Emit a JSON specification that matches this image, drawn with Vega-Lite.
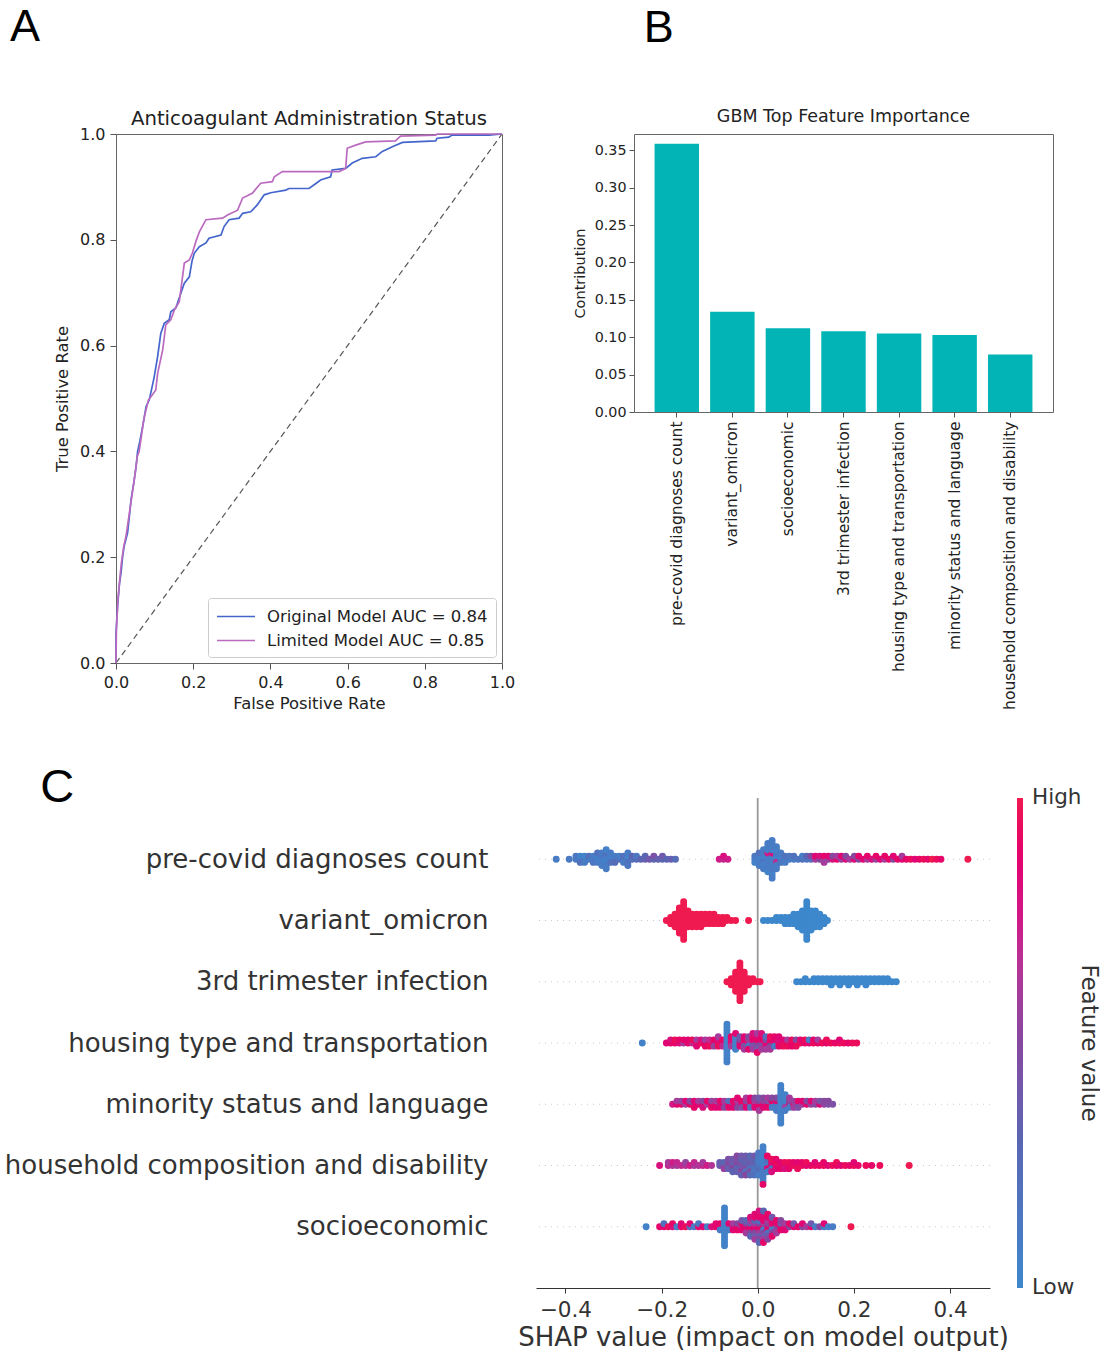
{
"$schema": "https://vega.github.io/schema/vega-lite/v6.json",
"padding": {"left": 4, "top": 4, "right": 0, "bottom": 0},
"background": "white",
"config": {
  "font": "DejaVu Sans",
  "view": {"stroke": "#666", "strokeWidth": 1},
  "axis": {"grid": false, "domain": false, "tickColor": "#555", "labelColor": "#222", "titleColor": "#222", "titleFontWeight": "normal", "labelFont": "DejaVu Sans", "titleFont": "DejaVu Sans"},
  "legend": {"labelFont": "DejaVu Sans", "titleFont": "DejaVu Sans"},
  "title": {"font": "DejaVu Sans", "fontWeight": "normal", "color": "#222"}
},
"resolve": {"scale": {"color": "independent"}, "legend": {"color": "independent"}},
"spacing": 52,
"vconcat": [
 {"hconcat": [
  {"title": {"text": "A", "anchor": "start", "font": "Liberation Sans", "fontSize": 45, "color": "#000", "fontWeight": "normal", "offset": 59, "dx": -44},
   "resolve": {"scale": {"color": "independent"}, "legend": {"color": "independent"}},
   "vconcat": [{
    "width": 386, "height": 529,
    "title": {"text": "Anticoagulant Administration Status", "fontSize": 19.7, "offset": -3},
    "layer": [
     {"data": {"values": [{"fpr": 0, "tpr": 0}, {"fpr": 1, "tpr": 1}]},
      "mark": {"type": "line", "color": "#555", "strokeDash": [6, 4], "strokeWidth": 1.2},
      "encoding": {
        "x": {"field": "fpr", "type": "quantitative", "scale": {"domain": [0, 1], "nice": false},
              "axis": {"values": [0, 0.2, 0.4, 0.6, 0.8, 1], "format": ".1f", "title": "False Positive Rate", "labelFontSize": 16, "titleFontSize": 16.4, "tickSize": 6, "labelPadding": 5, "titlePadding": 5, "labelFlush": false}},
        "y": {"field": "tpr", "type": "quantitative", "scale": {"domain": [0, 1], "nice": false},
              "axis": {"values": [0, 0.2, 0.4, 0.6, 0.8, 1], "format": ".1f", "title": "True Positive Rate", "labelFontSize": 16, "titleFontSize": 16.4, "tickSize": 6, "labelPadding": 5, "titlePadding": 9, "labelFlush": false}}
      }},
     {"data": {"values": [
{"model":"Original Model AUC = 0.84","i":0,"fpr":0,"tpr":0},
{"model":"Original Model AUC = 0.84","i":1,"fpr":0,"tpr":0.057},
{"model":"Original Model AUC = 0.84","i":2,"fpr":0.004,"tpr":0.107},
{"model":"Original Model AUC = 0.84","i":3,"fpr":0.009,"tpr":0.15},
{"model":"Original Model AUC = 0.84","i":4,"fpr":0.013,"tpr":0.17},
{"model":"Original Model AUC = 0.84","i":5,"fpr":0.017,"tpr":0.2},
{"model":"Original Model AUC = 0.84","i":6,"fpr":0.021,"tpr":0.22},
{"model":"Original Model AUC = 0.84","i":7,"fpr":0.03,"tpr":0.246},
{"model":"Original Model AUC = 0.84","i":8,"fpr":0.035,"tpr":0.28},
{"model":"Original Model AUC = 0.84","i":9,"fpr":0.039,"tpr":0.309},
{"model":"Original Model AUC = 0.84","i":10,"fpr":0.046,"tpr":0.34},
{"model":"Original Model AUC = 0.84","i":11,"fpr":0.052,"tpr":0.371},
{"model":"Original Model AUC = 0.84","i":12,"fpr":0.056,"tpr":0.4},
{"model":"Original Model AUC = 0.84","i":13,"fpr":0.062,"tpr":0.42},
{"model":"Original Model AUC = 0.84","i":14,"fpr":0.069,"tpr":0.447},
{"model":"Original Model AUC = 0.84","i":15,"fpr":0.078,"tpr":0.485},
{"model":"Original Model AUC = 0.84","i":16,"fpr":0.086,"tpr":0.497},
{"model":"Original Model AUC = 0.84","i":17,"fpr":0.093,"tpr":0.52},
{"model":"Original Model AUC = 0.84","i":18,"fpr":0.099,"tpr":0.541},
{"model":"Original Model AUC = 0.84","i":19,"fpr":0.108,"tpr":0.58},
{"model":"Original Model AUC = 0.84","i":20,"fpr":0.116,"tpr":0.623},
{"model":"Original Model AUC = 0.84","i":21,"fpr":0.125,"tpr":0.642},
{"model":"Original Model AUC = 0.84","i":22,"fpr":0.138,"tpr":0.649},
{"model":"Original Model AUC = 0.84","i":23,"fpr":0.142,"tpr":0.664},
{"model":"Original Model AUC = 0.84","i":24,"fpr":0.155,"tpr":0.671},
{"model":"Original Model AUC = 0.84","i":25,"fpr":0.168,"tpr":0.699},
{"model":"Original Model AUC = 0.84","i":26,"fpr":0.177,"tpr":0.718},
{"model":"Original Model AUC = 0.84","i":27,"fpr":0.19,"tpr":0.73},
{"model":"Original Model AUC = 0.84","i":28,"fpr":0.197,"tpr":0.76},
{"model":"Original Model AUC = 0.84","i":29,"fpr":0.203,"tpr":0.775},
{"model":"Original Model AUC = 0.84","i":30,"fpr":0.216,"tpr":0.787},
{"model":"Original Model AUC = 0.84","i":31,"fpr":0.233,"tpr":0.794},
{"model":"Original Model AUC = 0.84","i":32,"fpr":0.241,"tpr":0.803},
{"model":"Original Model AUC = 0.84","i":33,"fpr":0.272,"tpr":0.809},
{"model":"Original Model AUC = 0.84","i":34,"fpr":0.28,"tpr":0.825},
{"model":"Original Model AUC = 0.84","i":35,"fpr":0.293,"tpr":0.838},
{"model":"Original Model AUC = 0.84","i":36,"fpr":0.319,"tpr":0.841},
{"model":"Original Model AUC = 0.84","i":37,"fpr":0.328,"tpr":0.85},
{"model":"Original Model AUC = 0.84","i":38,"fpr":0.349,"tpr":0.853},
{"model":"Original Model AUC = 0.84","i":39,"fpr":0.366,"tpr":0.866},
{"model":"Original Model AUC = 0.84","i":40,"fpr":0.384,"tpr":0.885},
{"model":"Original Model AUC = 0.84","i":41,"fpr":0.401,"tpr":0.889},
{"model":"Original Model AUC = 0.84","i":42,"fpr":0.44,"tpr":0.894},
{"model":"Original Model AUC = 0.84","i":43,"fpr":0.448,"tpr":0.897},
{"model":"Original Model AUC = 0.84","i":44,"fpr":0.5,"tpr":0.897},
{"model":"Original Model AUC = 0.84","i":45,"fpr":0.517,"tpr":0.906},
{"model":"Original Model AUC = 0.84","i":46,"fpr":0.53,"tpr":0.913},
{"model":"Original Model AUC = 0.84","i":47,"fpr":0.556,"tpr":0.919},
{"model":"Original Model AUC = 0.84","i":48,"fpr":0.56,"tpr":0.932},
{"model":"Original Model AUC = 0.84","i":49,"fpr":0.595,"tpr":0.935},
{"model":"Original Model AUC = 0.84","i":50,"fpr":0.612,"tpr":0.945},
{"model":"Original Model AUC = 0.84","i":51,"fpr":0.638,"tpr":0.954},
{"model":"Original Model AUC = 0.84","i":52,"fpr":0.673,"tpr":0.957},
{"model":"Original Model AUC = 0.84","i":53,"fpr":0.69,"tpr":0.967},
{"model":"Original Model AUC = 0.84","i":54,"fpr":0.716,"tpr":0.976},
{"model":"Original Model AUC = 0.84","i":55,"fpr":0.742,"tpr":0.984},
{"model":"Original Model AUC = 0.84","i":56,"fpr":0.828,"tpr":0.987},
{"model":"Original Model AUC = 0.84","i":57,"fpr":0.832,"tpr":0.992},
{"model":"Original Model AUC = 0.84","i":58,"fpr":0.862,"tpr":0.994},
{"model":"Original Model AUC = 0.84","i":59,"fpr":0.871,"tpr":0.998},
{"model":"Original Model AUC = 0.84","i":60,"fpr":0.966,"tpr":0.998},
{"model":"Original Model AUC = 0.84","i":61,"fpr":1,"tpr":1},
{"model":"Limited Model AUC = 0.85","i":0,"fpr":0,"tpr":0},
{"model":"Limited Model AUC = 0.85","i":1,"fpr":0.001,"tpr":0.06},
{"model":"Limited Model AUC = 0.85","i":2,"fpr":0.005,"tpr":0.12},
{"model":"Limited Model AUC = 0.85","i":3,"fpr":0.01,"tpr":0.16},
{"model":"Limited Model AUC = 0.85","i":4,"fpr":0.014,"tpr":0.19},
{"model":"Limited Model AUC = 0.85","i":5,"fpr":0.02,"tpr":0.22},
{"model":"Limited Model AUC = 0.85","i":6,"fpr":0.026,"tpr":0.24},
{"model":"Limited Model AUC = 0.85","i":7,"fpr":0.032,"tpr":0.27},
{"model":"Limited Model AUC = 0.85","i":8,"fpr":0.038,"tpr":0.3},
{"model":"Limited Model AUC = 0.85","i":9,"fpr":0.044,"tpr":0.33},
{"model":"Limited Model AUC = 0.85","i":10,"fpr":0.05,"tpr":0.36},
{"model":"Limited Model AUC = 0.85","i":11,"fpr":0.055,"tpr":0.39},
{"model":"Limited Model AUC = 0.85","i":12,"fpr":0.06,"tpr":0.4},
{"model":"Limited Model AUC = 0.85","i":13,"fpr":0.066,"tpr":0.43},
{"model":"Limited Model AUC = 0.85","i":14,"fpr":0.072,"tpr":0.46},
{"model":"Limited Model AUC = 0.85","i":15,"fpr":0.078,"tpr":0.479},
{"model":"Limited Model AUC = 0.85","i":16,"fpr":0.084,"tpr":0.497},
{"model":"Limited Model AUC = 0.85","i":17,"fpr":0.091,"tpr":0.504},
{"model":"Limited Model AUC = 0.85","i":18,"fpr":0.103,"tpr":0.516},
{"model":"Limited Model AUC = 0.85","i":19,"fpr":0.108,"tpr":0.548},
{"model":"Limited Model AUC = 0.85","i":20,"fpr":0.121,"tpr":0.592},
{"model":"Limited Model AUC = 0.85","i":21,"fpr":0.129,"tpr":0.639},
{"model":"Limited Model AUC = 0.85","i":22,"fpr":0.142,"tpr":0.649},
{"model":"Limited Model AUC = 0.85","i":23,"fpr":0.151,"tpr":0.667},
{"model":"Limited Model AUC = 0.85","i":24,"fpr":0.164,"tpr":0.683},
{"model":"Limited Model AUC = 0.85","i":25,"fpr":0.177,"tpr":0.756},
{"model":"Limited Model AUC = 0.85","i":26,"fpr":0.19,"tpr":0.762},
{"model":"Limited Model AUC = 0.85","i":27,"fpr":0.198,"tpr":0.775},
{"model":"Limited Model AUC = 0.85","i":28,"fpr":0.207,"tpr":0.797},
{"model":"Limited Model AUC = 0.85","i":29,"fpr":0.216,"tpr":0.815},
{"model":"Limited Model AUC = 0.85","i":30,"fpr":0.233,"tpr":0.838},
{"model":"Limited Model AUC = 0.85","i":31,"fpr":0.276,"tpr":0.841},
{"model":"Limited Model AUC = 0.85","i":32,"fpr":0.289,"tpr":0.847},
{"model":"Limited Model AUC = 0.85","i":33,"fpr":0.315,"tpr":0.856},
{"model":"Limited Model AUC = 0.85","i":34,"fpr":0.328,"tpr":0.879},
{"model":"Limited Model AUC = 0.85","i":35,"fpr":0.353,"tpr":0.888},
{"model":"Limited Model AUC = 0.85","i":36,"fpr":0.375,"tpr":0.907},
{"model":"Limited Model AUC = 0.85","i":37,"fpr":0.405,"tpr":0.91},
{"model":"Limited Model AUC = 0.85","i":38,"fpr":0.41,"tpr":0.919},
{"model":"Limited Model AUC = 0.85","i":39,"fpr":0.431,"tpr":0.929},
{"model":"Limited Model AUC = 0.85","i":40,"fpr":0.578,"tpr":0.929},
{"model":"Limited Model AUC = 0.85","i":41,"fpr":0.595,"tpr":0.935},
{"model":"Limited Model AUC = 0.85","i":42,"fpr":0.599,"tpr":0.973},
{"model":"Limited Model AUC = 0.85","i":43,"fpr":0.621,"tpr":0.979},
{"model":"Limited Model AUC = 0.85","i":44,"fpr":0.647,"tpr":0.985},
{"model":"Limited Model AUC = 0.85","i":45,"fpr":0.724,"tpr":0.987},
{"model":"Limited Model AUC = 0.85","i":46,"fpr":0.737,"tpr":0.996},
{"model":"Limited Model AUC = 0.85","i":47,"fpr":0.828,"tpr":0.998},
{"model":"Limited Model AUC = 0.85","i":48,"fpr":0.832,"tpr":1},
{"model":"Limited Model AUC = 0.85","i":49,"fpr":1,"tpr":1}
      ]},
      "mark": {"type": "line", "strokeWidth": 1.7},
      "encoding": {
        "x": {"field": "fpr", "type": "quantitative", "scale": {"domain": [0, 1], "nice": false}},
        "y": {"field": "tpr", "type": "quantitative", "scale": {"domain": [0, 1], "nice": false}},
        "color": {"field": "model", "type": "nominal",
                  "scale": {"domain": ["Original Model AUC = 0.84", "Limited Model AUC = 0.85"], "range": ["#4466cc", "#bb6bbf"]},
                  "legend": {"orient": "bottom-right", "title": null, "symbolType": "M-1,0H3", "symbolSize": 361, "symbolStrokeWidth": 1.5, "strokeColor": "#ccc", "fillColor": "#fff", "padding": 8, "cornerRadius": 3, "labelFontSize": 16.5, "labelColor": "#222", "labelLimit": 400, "rowPadding": 5, "labelOffset": 30, "offset": 6}},
        "order": {"field": "i", "type": "quantitative"}
      }}
    ]
   }]},
  {"title": {"text": "B", "anchor": "start", "font": "Liberation Sans", "fontSize": 45, "color": "#000", "fontWeight": "normal", "offset": 56, "dx": 72},
   "vconcat": [{
    "width": 419, "height": 278,
    "title": {"text": "GBM Top Feature Importance", "fontSize": 17.5, "offset": 9},
    "data": {"values": [
      {"feature": "pre-covid diagnoses count", "importance": 0.359},
      {"feature": "variant_omicron", "importance": 0.134},
      {"feature": "socioeconomic", "importance": 0.112},
      {"feature": "3rd trimester infection", "importance": 0.108},
      {"feature": "housing type and transportation", "importance": 0.105},
      {"feature": "minority status and language", "importance": 0.103},
      {"feature": "household composition and disability", "importance": 0.077}
    ]},
    "mark": {"type": "bar", "color": "#03b4b6"},
    "encoding": {
      "x": {"field": "feature", "type": "nominal", "sort": null, "scale": {"paddingInner": 0.2, "paddingOuter": 0.37},
            "axis": {"title": null, "labelAngle": -90, "labelFontSize": 15.5, "labelLimit": 400, "tickSize": 5, "labelPadding": 4}},
      "y": {"field": "importance", "type": "quantitative", "scale": {"domain": [0, 0.3719], "nice": false},
            "axis": {"values": [0, 0.05, 0.1, 0.15, 0.2, 0.25, 0.3, 0.35], "format": ".2f", "title": "Contribution", "labelFontSize": 14.3, "titleFontSize": 14.5, "tickSize": 5, "labelPadding": 3, "titlePadding": 7, "labelFlush": false}}
    }
   }]}
 ], "spacing": 55},
 {"hconcat": [
  {"width": 1, "height": 1, "data": {"values": [{"a": 0}]}, "mark": {"type": "point", "opacity": 0}, "view": {"stroke": null}},
  {
  "width": 454, "height": 490,
  "title": {"text": "C", "anchor": "start", "font": "Liberation Sans", "fontSize": 47, "color": "#000", "fontWeight": "normal", "offset": -15, "dx": 36},
  "view": {"stroke": null},
  "layer": [
   {"data": {"values": [{"r": 0}, {"r": 1}, {"r": 2}, {"r": 3}, {"r": 4}, {"r": 5}, {"r": 6}]},
    "mark": {"type": "rule", "color": "#c8c8c8", "strokeDash": [1, 5], "strokeWidth": 1},
    "encoding": {"y": {"field": "r", "type": "quantitative", "scale": {"domain": [-1, 7], "nice": false}, "axis": {"title": null}}}},
   {"data": {"values": [{"z": 0}]},
    "mark": {"type": "rule", "color": "#999", "strokeWidth": 1.8},
    "encoding": {"x": {"field": "z", "type": "quantitative", "scale": {"domain": [-0.461, 0.483], "nice": false}, "axis": {"title": "SHAP value (impact on model output)"}}}},
   {"data": {"values": [
{"r":6,"x":-0.419,"v":0.1},{"r":6,"x":-0.392,"v":0.12},
{"r":6,"x":-0.378,"v":0.1},{"r":6,"x":-0.378,"v":0.15},
{"r":6,"x":-0.369,"v":0.1},{"r":6,"x":-0.369,"v":0.05},{"r":6,"x":-0.369,"v":0.2},
{"r":6,"x":-0.36,"v":0.15},{"r":6,"x":-0.36,"v":0.05},{"r":6,"x":-0.36,"v":0.1},
{"r":6,"x":-0.351,"v":0.1},{"r":6,"x":-0.351,"v":0.2},
{"r":6,"x":-0.342,"v":0.05},{"r":6,"x":-0.342,"v":0.1},{"r":6,"x":-0.342,"v":0.15},
{"r":6,"x":-0.333,"v":0.1},{"r":6,"x":-0.333,"v":0.05},{"r":6,"x":-0.333,"v":0.1},{"r":6,"x":-0.333,"v":0.2},
{"r":6,"x":-0.324,"v":0.1},{"r":6,"x":-0.324,"v":0.15},{"r":6,"x":-0.324,"v":0.05},{"r":6,"x":-0.324,"v":0.1},{"r":6,"x":-0.324,"v":0.1},
{"r":6,"x":-0.315,"v":0.05},{"r":6,"x":-0.315,"v":0.1},{"r":6,"x":-0.315,"v":0.05},{"r":6,"x":-0.315,"v":0.2},{"r":6,"x":-0.315,"v":0.1},{"r":6,"x":-0.315,"v":0.05},{"r":6,"x":-0.315,"v":0.1},
{"r":6,"x":-0.306,"v":0.1},{"r":6,"x":-0.306,"v":0.05},{"r":6,"x":-0.306,"v":0.2},{"r":6,"x":-0.306,"v":0.1},
{"r":6,"x":-0.297,"v":0.15},{"r":6,"x":-0.297,"v":0.1},{"r":6,"x":-0.297,"v":0.25},
{"r":6,"x":-0.288,"v":0.2},{"r":6,"x":-0.288,"v":0.1},
{"r":6,"x":-0.279,"v":0.15},{"r":6,"x":-0.279,"v":0.2},{"r":6,"x":-0.279,"v":0.1},
{"r":6,"x":-0.27,"v":0.1},{"r":6,"x":-0.27,"v":0.05},{"r":6,"x":-0.27,"v":0.2},{"r":6,"x":-0.27,"v":0.1},{"r":6,"x":-0.27,"v":0.15},
{"r":6,"x":-0.261,"v":0.2},{"r":6,"x":-0.261,"v":0.3},
{"r":6,"x":-0.252,"v":0.25},{"r":6,"x":-0.252,"v":0.15},
{"r":6,"x":-0.243,"v":0.3},
{"r":6,"x":-0.234,"v":0.35},{"r":6,"x":-0.234,"v":0.3},
{"r":6,"x":-0.225,"v":0.4},
{"r":6,"x":-0.216,"v":0.3},{"r":6,"x":-0.216,"v":0.45},
{"r":6,"x":-0.207,"v":0.35},
{"r":6,"x":-0.198,"v":0.3},{"r":6,"x":-0.198,"v":0.4},
{"r":6,"x":-0.189,"v":0.3},{"r":6,"x":-0.18,"v":0.35},{"r":6,"x":-0.171,"v":0.25},
{"r":6,"x":-0.08,"v":0.75},{"r":6,"x":-0.071,"v":0.7},{"r":6,"x":-0.071,"v":0.8},{"r":6,"x":-0.062,"v":0.75},
{"r":6,"x":-0.006,"v":0.1},{"r":6,"x":-0.006,"v":0.15},{"r":6,"x":-0.006,"v":0.05},
{"r":6,"x":0.003,"v":0.1},{"r":6,"x":0.003,"v":0.05},{"r":6,"x":0.003,"v":0.1},{"r":6,"x":0.003,"v":0.2},{"r":6,"x":0.003,"v":0.1},
{"r":6,"x":0.012,"v":0.1},{"r":6,"x":0.012,"v":0.05},{"r":6,"x":0.012,"v":0.15},{"r":6,"x":0.012,"v":0.1},{"r":6,"x":0.012,"v":0.05},{"r":6,"x":0.012,"v":0.1},{"r":6,"x":0.012,"v":0.1},
{"r":6,"x":0.021,"v":0.1},{"r":6,"x":0.021,"v":0.05},{"r":6,"x":0.021,"v":0.1},{"r":6,"x":0.021,"v":0.75},{"r":6,"x":0.021,"v":0.1},{"r":6,"x":0.021,"v":0.05},{"r":6,"x":0.021,"v":0.1},{"r":6,"x":0.021,"v":0.1},{"r":6,"x":0.021,"v":0.05},{"r":6,"x":0.021,"v":0.1},
{"r":6,"x":0.03,"v":0.1},{"r":6,"x":0.03,"v":0.05},{"r":6,"x":0.03,"v":0.1},{"r":6,"x":0.03,"v":0.8},{"r":6,"x":0.03,"v":0.1},{"r":6,"x":0.03,"v":0.05},{"r":6,"x":0.03,"v":0.1},{"r":6,"x":0.03,"v":0.1},{"r":6,"x":0.03,"v":0.15},{"r":6,"x":0.03,"v":0.1},{"r":6,"x":0.03,"v":0.05},{"r":6,"x":0.03,"v":0.1},{"r":6,"x":0.03,"v":0.1},
{"r":6,"x":0.039,"v":0.1},{"r":6,"x":0.039,"v":0.05},{"r":6,"x":0.039,"v":0.7},{"r":6,"x":0.039,"v":0.1},{"r":6,"x":0.039,"v":0.1},{"r":6,"x":0.039,"v":0.05},{"r":6,"x":0.039,"v":0.1},{"r":6,"x":0.039,"v":0.1},
{"r":6,"x":0.048,"v":0.1},{"r":6,"x":0.048,"v":0.05},{"r":6,"x":0.048,"v":0.15},{"r":6,"x":0.048,"v":0.1},
{"r":6,"x":0.057,"v":0.1},{"r":6,"x":0.057,"v":0.2},{"r":6,"x":0.057,"v":0.1},
{"r":6,"x":0.066,"v":0.1},{"r":6,"x":0.066,"v":0.15},
{"r":6,"x":0.075,"v":0.1},{"r":6,"x":0.075,"v":0.2},
{"r":6,"x":0.084,"v":0.15},
{"r":6,"x":0.093,"v":0.2},{"r":6,"x":0.093,"v":0.1},
{"r":6,"x":0.102,"v":0.15},{"r":6,"x":0.102,"v":0.3},
{"r":6,"x":0.111,"v":0.2},{"r":6,"x":0.111,"v":0.5},
{"r":6,"x":0.12,"v":0.6},{"r":6,"x":0.12,"v":0.85},
{"r":6,"x":0.129,"v":0.5},{"r":6,"x":0.129,"v":0.8},
{"r":6,"x":0.138,"v":0.45},{"r":6,"x":0.138,"v":0.9},{"r":6,"x":0.138,"v":0.6},
{"r":6,"x":0.147,"v":0.55},{"r":6,"x":0.147,"v":0.85},
{"r":6,"x":0.156,"v":0.8},{"r":6,"x":0.156,"v":0.5},
{"r":6,"x":0.165,"v":0.9},{"r":6,"x":0.165,"v":0.6},
{"r":6,"x":0.174,"v":0.55},{"r":6,"x":0.174,"v":0.85},
{"r":6,"x":0.183,"v":0.8},{"r":6,"x":0.183,"v":0.5},
{"r":6,"x":0.192,"v":0.6},
{"r":6,"x":0.201,"v":0.85},{"r":6,"x":0.201,"v":0.5},
{"r":6,"x":0.21,"v":0.5},{"r":6,"x":0.21,"v":0.9},
{"r":6,"x":0.219,"v":0.85},
{"r":6,"x":0.228,"v":0.6},{"r":6,"x":0.228,"v":0.9},
{"r":6,"x":0.237,"v":0.8},
{"r":6,"x":0.246,"v":0.55},{"r":6,"x":0.246,"v":0.9},
{"r":6,"x":0.255,"v":0.85},
{"r":6,"x":0.264,"v":0.6},{"r":6,"x":0.264,"v":0.9},
{"r":6,"x":0.273,"v":0.9},
{"r":6,"x":0.282,"v":0.5},{"r":6,"x":0.282,"v":0.85},
{"r":6,"x":0.291,"v":0.9},
{"r":6,"x":0.3,"v":0.85},{"r":6,"x":0.3,"v":0.6},
{"r":6,"x":0.309,"v":0.9},{"r":6,"x":0.318,"v":0.95},{"r":6,"x":0.327,"v":0.85},{"r":6,"x":0.336,"v":0.9},{"r":6,"x":0.345,"v":0.95},{"r":6,"x":0.354,"v":0.9},{"r":6,"x":0.363,"v":1},{"r":6,"x":0.372,"v":0.95},{"r":6,"x":0.381,"v":0.9},
{"r":6,"x":0.437,"v":1},

{"r":5,"x":-0.19,"v":1},
{"r":5,"x":-0.181,"v":1},{"r":5,"x":-0.181,"v":1},{"r":5,"x":-0.181,"v":1},
{"r":5,"x":-0.172,"v":1},{"r":5,"x":-0.172,"v":1},{"r":5,"x":-0.172,"v":1},{"r":5,"x":-0.172,"v":1},{"r":5,"x":-0.172,"v":1},
{"r":5,"x":-0.163,"v":1},{"r":5,"x":-0.163,"v":1},{"r":5,"x":-0.163,"v":1},{"r":5,"x":-0.163,"v":1},{"r":5,"x":-0.163,"v":1},{"r":5,"x":-0.163,"v":1},{"r":5,"x":-0.163,"v":1},{"r":5,"x":-0.163,"v":1},{"r":5,"x":-0.163,"v":1},
{"r":5,"x":-0.154,"v":1},{"r":5,"x":-0.154,"v":1},{"r":5,"x":-0.154,"v":1},{"r":5,"x":-0.154,"v":1},{"r":5,"x":-0.154,"v":1},{"r":5,"x":-0.154,"v":1},{"r":5,"x":-0.154,"v":1},{"r":5,"x":-0.154,"v":1},{"r":5,"x":-0.154,"v":1},{"r":5,"x":-0.154,"v":1},{"r":5,"x":-0.154,"v":1},{"r":5,"x":-0.154,"v":1},{"r":5,"x":-0.154,"v":1},
{"r":5,"x":-0.145,"v":1},{"r":5,"x":-0.145,"v":1},{"r":5,"x":-0.145,"v":1},{"r":5,"x":-0.145,"v":1},{"r":5,"x":-0.145,"v":1},{"r":5,"x":-0.145,"v":1},
{"r":5,"x":-0.136,"v":1},{"r":5,"x":-0.136,"v":1},{"r":5,"x":-0.136,"v":1},{"r":5,"x":-0.136,"v":1},{"r":5,"x":-0.136,"v":1},
{"r":5,"x":-0.127,"v":1},{"r":5,"x":-0.127,"v":1},{"r":5,"x":-0.127,"v":1},{"r":5,"x":-0.127,"v":1},{"r":5,"x":-0.127,"v":1},
{"r":5,"x":-0.118,"v":1},{"r":5,"x":-0.118,"v":1},{"r":5,"x":-0.118,"v":1},{"r":5,"x":-0.118,"v":1},{"r":5,"x":-0.118,"v":1},
{"r":5,"x":-0.109,"v":1},{"r":5,"x":-0.109,"v":1},{"r":5,"x":-0.109,"v":1},{"r":5,"x":-0.109,"v":1},
{"r":5,"x":-0.1,"v":1},{"r":5,"x":-0.1,"v":1},{"r":5,"x":-0.1,"v":1},{"r":5,"x":-0.1,"v":1},
{"r":5,"x":-0.091,"v":1},{"r":5,"x":-0.091,"v":1},{"r":5,"x":-0.091,"v":1},{"r":5,"x":-0.091,"v":1},
{"r":5,"x":-0.082,"v":1},{"r":5,"x":-0.082,"v":1},{"r":5,"x":-0.082,"v":1},
{"r":5,"x":-0.073,"v":1},{"r":5,"x":-0.073,"v":1},{"r":5,"x":-0.073,"v":1},
{"r":5,"x":-0.064,"v":1},{"r":5,"x":-0.064,"v":1},
{"r":5,"x":-0.055,"v":1},{"r":5,"x":-0.046,"v":1},{"r":5,"x":-0.019,"v":1},
{"r":5,"x":0.012,"v":0},{"r":5,"x":0.021,"v":0},{"r":5,"x":0.03,"v":0},
{"r":5,"x":0.039,"v":0},{"r":5,"x":0.039,"v":0},
{"r":5,"x":0.048,"v":0},{"r":5,"x":0.048,"v":0},
{"r":5,"x":0.057,"v":0},{"r":5,"x":0.057,"v":0},{"r":5,"x":0.057,"v":0},
{"r":5,"x":0.066,"v":0},{"r":5,"x":0.066,"v":0},{"r":5,"x":0.066,"v":0},
{"r":5,"x":0.075,"v":0},{"r":5,"x":0.075,"v":0},{"r":5,"x":0.075,"v":0},{"r":5,"x":0.075,"v":0},
{"r":5,"x":0.084,"v":0},{"r":5,"x":0.084,"v":0},{"r":5,"x":0.084,"v":0},{"r":5,"x":0.084,"v":0},{"r":5,"x":0.084,"v":0},
{"r":5,"x":0.093,"v":0},{"r":5,"x":0.093,"v":0},{"r":5,"x":0.093,"v":0},{"r":5,"x":0.093,"v":0},{"r":5,"x":0.093,"v":0},{"r":5,"x":0.093,"v":0},{"r":5,"x":0.093,"v":0},
{"r":5,"x":0.102,"v":0},{"r":5,"x":0.102,"v":0},{"r":5,"x":0.102,"v":0},{"r":5,"x":0.102,"v":0},{"r":5,"x":0.102,"v":0},{"r":5,"x":0.102,"v":0},{"r":5,"x":0.102,"v":0},{"r":5,"x":0.102,"v":0},{"r":5,"x":0.102,"v":0},{"r":5,"x":0.102,"v":0},{"r":5,"x":0.102,"v":0},{"r":5,"x":0.102,"v":0},{"r":5,"x":0.102,"v":0},
{"r":5,"x":0.111,"v":0},{"r":5,"x":0.111,"v":0},{"r":5,"x":0.111,"v":0},{"r":5,"x":0.111,"v":0},{"r":5,"x":0.111,"v":0},{"r":5,"x":0.111,"v":0},{"r":5,"x":0.111,"v":0},
{"r":5,"x":0.12,"v":0},{"r":5,"x":0.12,"v":0},{"r":5,"x":0.12,"v":0},{"r":5,"x":0.12,"v":0},{"r":5,"x":0.12,"v":0},{"r":5,"x":0.12,"v":0},
{"r":5,"x":0.129,"v":0},{"r":5,"x":0.129,"v":0},{"r":5,"x":0.129,"v":0},{"r":5,"x":0.129,"v":0},{"r":5,"x":0.129,"v":0},
{"r":5,"x":0.138,"v":0},{"r":5,"x":0.138,"v":0},{"r":5,"x":0.138,"v":0},
{"r":5,"x":0.145,"v":0},

{"r":4,"x":-0.064,"v":1},
{"r":4,"x":-0.055,"v":1},{"r":4,"x":-0.055,"v":1},{"r":4,"x":-0.055,"v":1},
{"r":4,"x":-0.046,"v":1},{"r":4,"x":-0.046,"v":1},{"r":4,"x":-0.046,"v":1},{"r":4,"x":-0.046,"v":1},{"r":4,"x":-0.046,"v":1},{"r":4,"x":-0.046,"v":1},{"r":4,"x":-0.046,"v":1},
{"r":4,"x":-0.037,"v":1},{"r":4,"x":-0.037,"v":1},{"r":4,"x":-0.037,"v":1},{"r":4,"x":-0.037,"v":1},{"r":4,"x":-0.037,"v":1},{"r":4,"x":-0.037,"v":1},{"r":4,"x":-0.037,"v":1},{"r":4,"x":-0.037,"v":1},{"r":4,"x":-0.037,"v":1},{"r":4,"x":-0.037,"v":1},{"r":4,"x":-0.037,"v":1},{"r":4,"x":-0.037,"v":1},{"r":4,"x":-0.037,"v":1},
{"r":4,"x":-0.028,"v":1},{"r":4,"x":-0.028,"v":1},{"r":4,"x":-0.028,"v":1},{"r":4,"x":-0.028,"v":1},{"r":4,"x":-0.028,"v":1},{"r":4,"x":-0.028,"v":1},{"r":4,"x":-0.028,"v":1},
{"r":4,"x":-0.019,"v":1},{"r":4,"x":-0.019,"v":1},{"r":4,"x":-0.019,"v":1},
{"r":4,"x":-0.01,"v":1},{"r":4,"x":-0.01,"v":1},
{"r":4,"x":-0.001,"v":1},{"r":4,"x":0.005,"v":1},
{"r":4,"x":0.081,"v":0},{"r":4,"x":0.09,"v":0},
{"r":4,"x":0.099,"v":0},{"r":4,"x":0.099,"v":0},
{"r":4,"x":0.108,"v":0},
{"r":4,"x":0.117,"v":0},{"r":4,"x":0.117,"v":0},
{"r":4,"x":0.126,"v":0},{"r":4,"x":0.126,"v":0},
{"r":4,"x":0.135,"v":0},{"r":4,"x":0.135,"v":0},
{"r":4,"x":0.144,"v":0},{"r":4,"x":0.144,"v":0},
{"r":4,"x":0.153,"v":0},{"r":4,"x":0.153,"v":0},{"r":4,"x":0.153,"v":0},
{"r":4,"x":0.162,"v":0},{"r":4,"x":0.162,"v":0},
{"r":4,"x":0.171,"v":0},{"r":4,"x":0.171,"v":0},{"r":4,"x":0.171,"v":0},
{"r":4,"x":0.18,"v":0},{"r":4,"x":0.18,"v":0},
{"r":4,"x":0.189,"v":0},{"r":4,"x":0.189,"v":0},{"r":4,"x":0.189,"v":0},
{"r":4,"x":0.198,"v":0},{"r":4,"x":0.198,"v":0},
{"r":4,"x":0.207,"v":0},{"r":4,"x":0.207,"v":0},{"r":4,"x":0.207,"v":0},
{"r":4,"x":0.216,"v":0},{"r":4,"x":0.216,"v":0},
{"r":4,"x":0.225,"v":0},{"r":4,"x":0.225,"v":0},{"r":4,"x":0.225,"v":0},
{"r":4,"x":0.234,"v":0},{"r":4,"x":0.234,"v":0},
{"r":4,"x":0.243,"v":0},{"r":4,"x":0.243,"v":0},
{"r":4,"x":0.252,"v":0},{"r":4,"x":0.252,"v":0},
{"r":4,"x":0.261,"v":0},{"r":4,"x":0.261,"v":0},
{"r":4,"x":0.27,"v":0},{"r":4,"x":0.27,"v":0},
{"r":4,"x":0.279,"v":0},{"r":4,"x":0.288,"v":0},

{"r":3,"x":-0.24,"v":0.05},
{"r":3,"x":-0.19,"v":0.85},
{"r":3,"x":-0.181,"v":0.9},{"r":3,"x":-0.181,"v":0.8},
{"r":3,"x":-0.172,"v":0.9},{"r":3,"x":-0.172,"v":0.95},
{"r":3,"x":-0.163,"v":0.8},{"r":3,"x":-0.163,"v":0.9},
{"r":3,"x":-0.154,"v":0.6},{"r":3,"x":-0.154,"v":0.9},
{"r":3,"x":-0.145,"v":0.9},{"r":3,"x":-0.145,"v":0.85},
{"r":3,"x":-0.136,"v":0.7},{"r":3,"x":-0.136,"v":0.95},
{"r":3,"x":-0.127,"v":0.9},{"r":3,"x":-0.127,"v":0.6},{"r":3,"x":-0.127,"v":0.85},
{"r":3,"x":-0.118,"v":0.95},{"r":3,"x":-0.118,"v":0.8},
{"r":3,"x":-0.109,"v":0.85},{"r":3,"x":-0.109,"v":0.6},{"r":3,"x":-0.109,"v":0.9},
{"r":3,"x":-0.1,"v":0.9},{"r":3,"x":-0.1,"v":0.7},{"r":3,"x":-0.1,"v":0.95},
{"r":3,"x":-0.091,"v":0.85},{"r":3,"x":-0.091,"v":0.9},{"r":3,"x":-0.091,"v":0.55},
{"r":3,"x":-0.082,"v":0.9},{"r":3,"x":-0.082,"v":0.8},{"r":3,"x":-0.082,"v":0.95},{"r":3,"x":-0.082,"v":0.6},
{"r":3,"x":-0.073,"v":0.85},{"r":3,"x":-0.073,"v":0.9},{"r":3,"x":-0.073,"v":0.7},
{"r":3,"x":-0.064,"v":0.05},{"r":3,"x":-0.064,"v":0.05},{"r":3,"x":-0.064,"v":0.05},{"r":3,"x":-0.064,"v":0.05},{"r":3,"x":-0.064,"v":0.05},{"r":3,"x":-0.064,"v":0.05},{"r":3,"x":-0.064,"v":0.05},{"r":3,"x":-0.064,"v":0.05},{"r":3,"x":-0.064,"v":0.05},{"r":3,"x":-0.064,"v":0.05},{"r":3,"x":-0.064,"v":0.05},{"r":3,"x":-0.064,"v":0.05},{"r":3,"x":-0.064,"v":0.05},
{"r":3,"x":-0.055,"v":0.9},{"r":3,"x":-0.055,"v":0.8},{"r":3,"x":-0.055,"v":0.6},{"r":3,"x":-0.055,"v":0.9},
{"r":3,"x":-0.046,"v":0.05},{"r":3,"x":-0.046,"v":0.05},{"r":3,"x":-0.046,"v":0.05},{"r":3,"x":-0.046,"v":0.05},{"r":3,"x":-0.046,"v":0.05},{"r":3,"x":-0.046,"v":0.85},
{"r":3,"x":-0.037,"v":0.9},{"r":3,"x":-0.037,"v":0.5},{"r":3,"x":-0.037,"v":0.85},{"r":3,"x":-0.037,"v":0.4},
{"r":3,"x":-0.028,"v":0.8},{"r":3,"x":-0.028,"v":0.9},{"r":3,"x":-0.028,"v":0.45},{"r":3,"x":-0.028,"v":0.85},{"r":3,"x":-0.028,"v":0.6},
{"r":3,"x":-0.019,"v":0.9},{"r":3,"x":-0.019,"v":0.6},{"r":3,"x":-0.019,"v":0.1},{"r":3,"x":-0.019,"v":0.5},{"r":3,"x":-0.019,"v":0.9},
{"r":3,"x":-0.01,"v":0.5},{"r":3,"x":-0.01,"v":0.85},{"r":3,"x":-0.01,"v":0.4},{"r":3,"x":-0.01,"v":0.9},{"r":3,"x":-0.01,"v":0.6},{"r":3,"x":-0.01,"v":0.8},
{"r":3,"x":-0.001,"v":0.45},{"r":3,"x":-0.001,"v":0.9},{"r":3,"x":-0.001,"v":0.5},{"r":3,"x":-0.001,"v":0.85},{"r":3,"x":-0.001,"v":0.4},{"r":3,"x":-0.001,"v":0.6},{"r":3,"x":-0.001,"v":0.9},
{"r":3,"x":0.008,"v":0.5},{"r":3,"x":0.008,"v":0.85},{"r":3,"x":0.008,"v":0.45},{"r":3,"x":0.008,"v":0.9},{"r":3,"x":0.008,"v":0.6},{"r":3,"x":0.008,"v":0.8},
{"r":3,"x":0.017,"v":0.9},{"r":3,"x":0.017,"v":0.5},{"r":3,"x":0.017,"v":0.85},{"r":3,"x":0.017,"v":0.2},{"r":3,"x":0.017,"v":0.6},
{"r":3,"x":0.026,"v":0.85},{"r":3,"x":0.026,"v":0.9},{"r":3,"x":0.026,"v":0.5},{"r":3,"x":0.026,"v":0.95},{"r":3,"x":0.026,"v":0.6},
{"r":3,"x":0.035,"v":0.9},{"r":3,"x":0.035,"v":0.85},{"r":3,"x":0.035,"v":0.1},{"r":3,"x":0.035,"v":0.9},
{"r":3,"x":0.044,"v":0.95},{"r":3,"x":0.044,"v":0.8},{"r":3,"x":0.044,"v":0.9},{"r":3,"x":0.044,"v":0.85},
{"r":3,"x":0.053,"v":0.9},{"r":3,"x":0.053,"v":0.85},{"r":3,"x":0.053,"v":0.95},
{"r":3,"x":0.062,"v":0.9},{"r":3,"x":0.062,"v":0.6},{"r":3,"x":0.062,"v":0.95},
{"r":3,"x":0.071,"v":0.85},{"r":3,"x":0.071,"v":0.95},{"r":3,"x":0.071,"v":0.9},
{"r":3,"x":0.08,"v":0.9},{"r":3,"x":0.08,"v":0.5},{"r":3,"x":0.08,"v":0.95},
{"r":3,"x":0.089,"v":0.95},{"r":3,"x":0.089,"v":0.85},
{"r":3,"x":0.098,"v":0.9},{"r":3,"x":0.098,"v":0.95},
{"r":3,"x":0.107,"v":0.85},{"r":3,"x":0.107,"v":0.1},
{"r":3,"x":0.116,"v":0.95},{"r":3,"x":0.116,"v":0.9},
{"r":3,"x":0.125,"v":0.9},{"r":3,"x":0.125,"v":0.6},
{"r":3,"x":0.134,"v":0.95},
{"r":3,"x":0.143,"v":0.9},{"r":3,"x":0.143,"v":0.95},
{"r":3,"x":0.152,"v":0.95},{"r":3,"x":0.161,"v":0.9},
{"r":3,"x":0.17,"v":0.95},{"r":3,"x":0.17,"v":0.85},
{"r":3,"x":0.179,"v":0.95},{"r":3,"x":0.188,"v":0.9},{"r":3,"x":0.197,"v":0.95},{"r":3,"x":0.206,"v":0.95},

{"r":2,"x":-0.177,"v":0.75},
{"r":2,"x":-0.168,"v":0.85},{"r":2,"x":-0.168,"v":0.6},
{"r":2,"x":-0.159,"v":0.9},{"r":2,"x":-0.159,"v":0.55},
{"r":2,"x":-0.15,"v":0.6},{"r":2,"x":-0.15,"v":0.85},
{"r":2,"x":-0.141,"v":0.9},{"r":2,"x":-0.141,"v":0.5},
{"r":2,"x":-0.132,"v":0.55},{"r":2,"x":-0.132,"v":0.85},{"r":2,"x":-0.132,"v":0.9},
{"r":2,"x":-0.123,"v":0.85},{"r":2,"x":-0.123,"v":0.6},
{"r":2,"x":-0.114,"v":0.9},{"r":2,"x":-0.114,"v":0.5},{"r":2,"x":-0.114,"v":0.8},
{"r":2,"x":-0.105,"v":0.6},{"r":2,"x":-0.105,"v":0.9},
{"r":2,"x":-0.096,"v":0.85},{"r":2,"x":-0.096,"v":0.55},{"r":2,"x":-0.096,"v":0.9},
{"r":2,"x":-0.087,"v":0.9},{"r":2,"x":-0.087,"v":0.6},{"r":2,"x":-0.087,"v":0.85},
{"r":2,"x":-0.078,"v":0.5},{"r":2,"x":-0.078,"v":0.9},{"r":2,"x":-0.078,"v":0.85},
{"r":2,"x":-0.069,"v":0.9},{"r":2,"x":-0.069,"v":0.6},{"r":2,"x":-0.069,"v":0.5},
{"r":2,"x":-0.06,"v":0.85},{"r":2,"x":-0.06,"v":0.2},{"r":2,"x":-0.06,"v":0.9},
{"r":2,"x":-0.051,"v":0.55},{"r":2,"x":-0.051,"v":0.9},{"r":2,"x":-0.051,"v":0.85},
{"r":2,"x":-0.042,"v":0.9},{"r":2,"x":-0.042,"v":0.6},{"r":2,"x":-0.042,"v":0.5},{"r":2,"x":-0.042,"v":0.85},
{"r":2,"x":-0.033,"v":0.85},{"r":2,"x":-0.033,"v":0.9},{"r":2,"x":-0.033,"v":0.45},
{"r":2,"x":-0.024,"v":0.9},{"r":2,"x":-0.024,"v":0.5},{"r":2,"x":-0.024,"v":0.85},{"r":2,"x":-0.024,"v":0.6},
{"r":2,"x":-0.015,"v":0.55},{"r":2,"x":-0.015,"v":0.9},{"r":2,"x":-0.015,"v":0.2},{"r":2,"x":-0.015,"v":0.85},
{"r":2,"x":-0.006,"v":0.9},{"r":2,"x":-0.006,"v":0.6},{"r":2,"x":-0.006,"v":0.85},{"r":2,"x":-0.006,"v":0.5},
{"r":2,"x":0.003,"v":0.85},{"r":2,"x":0.003,"v":0.5},{"r":2,"x":0.003,"v":0.9},{"r":2,"x":0.003,"v":0.4},{"r":2,"x":0.003,"v":0.6},
{"r":2,"x":0.012,"v":0.9},{"r":2,"x":0.012,"v":0.55},{"r":2,"x":0.012,"v":0.85},{"r":2,"x":0.012,"v":0.5},
{"r":2,"x":0.021,"v":0.85},{"r":2,"x":0.021,"v":0.45},{"r":2,"x":0.021,"v":0.9},{"r":2,"x":0.021,"v":0.6},
{"r":2,"x":0.03,"v":0.6},{"r":2,"x":0.03,"v":0.9},{"r":2,"x":0.03,"v":0.1},{"r":2,"x":0.03,"v":0.5},
{"r":2,"x":0.039,"v":0.1},{"r":2,"x":0.039,"v":0.85},{"r":2,"x":0.039,"v":0.1},{"r":2,"x":0.039,"v":0.5},{"r":2,"x":0.039,"v":0.1},
{"r":2,"x":0.048,"v":0.05},{"r":2,"x":0.048,"v":0.05},{"r":2,"x":0.048,"v":0.05},{"r":2,"x":0.048,"v":0.05},{"r":2,"x":0.048,"v":0.05},{"r":2,"x":0.048,"v":0.05},{"r":2,"x":0.048,"v":0.05},{"r":2,"x":0.048,"v":0.05},{"r":2,"x":0.048,"v":0.05},{"r":2,"x":0.048,"v":0.05},{"r":2,"x":0.048,"v":0.05},{"r":2,"x":0.048,"v":0.05},{"r":2,"x":0.048,"v":0.05},
{"r":2,"x":0.057,"v":0.1},{"r":2,"x":0.057,"v":0.05},{"r":2,"x":0.057,"v":0.6},{"r":2,"x":0.057,"v":0.05},{"r":2,"x":0.057,"v":0.1},{"r":2,"x":0.057,"v":0.05},
{"r":2,"x":0.066,"v":0.85},{"r":2,"x":0.066,"v":0.5},{"r":2,"x":0.066,"v":0.1},{"r":2,"x":0.066,"v":0.6},
{"r":2,"x":0.075,"v":0.9},{"r":2,"x":0.075,"v":0.55},{"r":2,"x":0.075,"v":0.6},
{"r":2,"x":0.084,"v":0.5},{"r":2,"x":0.084,"v":0.9},{"r":2,"x":0.084,"v":0.45},
{"r":2,"x":0.093,"v":0.6},{"r":2,"x":0.093,"v":0.85},
{"r":2,"x":0.102,"v":0.9},{"r":2,"x":0.102,"v":0.5},
{"r":2,"x":0.111,"v":0.55},{"r":2,"x":0.111,"v":0.85},
{"r":2,"x":0.12,"v":0.5},{"r":2,"x":0.12,"v":0.6},
{"r":2,"x":0.129,"v":0.85},{"r":2,"x":0.129,"v":0.45},
{"r":2,"x":0.138,"v":0.55},{"r":2,"x":0.138,"v":0.5},
{"r":2,"x":0.147,"v":0.45},{"r":2,"x":0.147,"v":0.5},
{"r":2,"x":0.156,"v":0.45},

{"r":1,"x":-0.204,"v":0.8},
{"r":1,"x":-0.186,"v":0.7},{"r":1,"x":-0.186,"v":0.6},
{"r":1,"x":-0.177,"v":0.65},{"r":1,"x":-0.177,"v":0.75},
{"r":1,"x":-0.168,"v":0.6},{"r":1,"x":-0.168,"v":0.7},
{"r":1,"x":-0.159,"v":0.7},
{"r":1,"x":-0.15,"v":0.65},{"r":1,"x":-0.15,"v":0.55},
{"r":1,"x":-0.141,"v":0.75},
{"r":1,"x":-0.132,"v":0.6},{"r":1,"x":-0.132,"v":0.7},
{"r":1,"x":-0.123,"v":0.65},
{"r":1,"x":-0.114,"v":0.7},{"r":1,"x":-0.114,"v":0.6},
{"r":1,"x":-0.105,"v":0.75},{"r":1,"x":-0.096,"v":0.65},
{"r":1,"x":-0.079,"v":0.4},{"r":1,"x":-0.079,"v":0.35},
{"r":1,"x":-0.07,"v":0.45},{"r":1,"x":-0.07,"v":0.3},{"r":1,"x":-0.07,"v":0.55},
{"r":1,"x":-0.061,"v":0.4},{"r":1,"x":-0.061,"v":0.5},{"r":1,"x":-0.061,"v":0.35},{"r":1,"x":-0.061,"v":0.45},
{"r":1,"x":-0.052,"v":0.45},{"r":1,"x":-0.052,"v":0.35},{"r":1,"x":-0.052,"v":0.5},{"r":1,"x":-0.052,"v":0.4},{"r":1,"x":-0.052,"v":0.3},
{"r":1,"x":-0.043,"v":0.4},{"r":1,"x":-0.043,"v":0.5},{"r":1,"x":-0.043,"v":0.3},{"r":1,"x":-0.043,"v":0.45},{"r":1,"x":-0.043,"v":0.35},{"r":1,"x":-0.043,"v":0.5},
{"r":1,"x":-0.034,"v":0.35},{"r":1,"x":-0.034,"v":0.45},{"r":1,"x":-0.034,"v":0.4},{"r":1,"x":-0.034,"v":0.3},{"r":1,"x":-0.034,"v":0.5},{"r":1,"x":-0.034,"v":0.4},{"r":1,"x":-0.034,"v":0.35},
{"r":1,"x":-0.025,"v":0.4},{"r":1,"x":-0.025,"v":0.3},{"r":1,"x":-0.025,"v":0.45},{"r":1,"x":-0.025,"v":0.35},{"r":1,"x":-0.025,"v":0.2},{"r":1,"x":-0.025,"v":0.4},{"r":1,"x":-0.025,"v":0.5},
{"r":1,"x":-0.016,"v":0.3},{"r":1,"x":-0.016,"v":0.4},{"r":1,"x":-0.016,"v":0.2},{"r":1,"x":-0.016,"v":0.35},{"r":1,"x":-0.016,"v":0.45},{"r":1,"x":-0.016,"v":0.3},{"r":1,"x":-0.016,"v":0.25},
{"r":1,"x":-0.007,"v":0.25},{"r":1,"x":-0.007,"v":0.35},{"r":1,"x":-0.007,"v":0.2},{"r":1,"x":-0.007,"v":0.3},{"r":1,"x":-0.007,"v":0.15},{"r":1,"x":-0.007,"v":0.4},{"r":1,"x":-0.007,"v":0.2},
{"r":1,"x":0.002,"v":0.15},{"r":1,"x":0.002,"v":0.1},{"r":1,"x":0.002,"v":0.2},{"r":1,"x":0.002,"v":0.1},{"r":1,"x":0.002,"v":0.25},{"r":1,"x":0.002,"v":0.1},{"r":1,"x":0.002,"v":0.1},{"r":1,"x":0.002,"v":0.15},
{"r":1,"x":0.011,"v":0.1},{"r":1,"x":0.011,"v":0.05},{"r":1,"x":0.011,"v":0.1},{"r":1,"x":0.011,"v":0.05},{"r":1,"x":0.011,"v":0.1},{"r":1,"x":0.011,"v":0.05},{"r":1,"x":0.011,"v":0.1},{"r":1,"x":0.011,"v":0.05},{"r":1,"x":0.011,"v":0.1},{"r":1,"x":0.011,"v":0.05},{"r":1,"x":0.011,"v":0.1},{"r":1,"x":0.011,"v":0.05},{"r":1,"x":0.011,"v":0.9},
{"r":1,"x":0.02,"v":0.1},{"r":1,"x":0.02,"v":0.15},{"r":1,"x":0.02,"v":0.85},{"r":1,"x":0.02,"v":0.2},{"r":1,"x":0.02,"v":0.1},{"r":1,"x":0.02,"v":0.9},
{"r":1,"x":0.029,"v":0.9},{"r":1,"x":0.029,"v":0.85},{"r":1,"x":0.029,"v":0.2},{"r":1,"x":0.029,"v":0.95},{"r":1,"x":0.029,"v":0.8},
{"r":1,"x":0.038,"v":0.9},{"r":1,"x":0.038,"v":0.95},{"r":1,"x":0.038,"v":0.85},{"r":1,"x":0.038,"v":0.9},
{"r":1,"x":0.047,"v":0.95},{"r":1,"x":0.047,"v":0.85},{"r":1,"x":0.047,"v":0.9},
{"r":1,"x":0.056,"v":0.9},{"r":1,"x":0.056,"v":0.95},{"r":1,"x":0.056,"v":0.8},
{"r":1,"x":0.065,"v":0.85},{"r":1,"x":0.065,"v":0.95},{"r":1,"x":0.065,"v":0.9},
{"r":1,"x":0.074,"v":0.95},{"r":1,"x":0.074,"v":0.9},
{"r":1,"x":0.083,"v":0.9},{"r":1,"x":0.083,"v":0.85},{"r":1,"x":0.083,"v":0.95},
{"r":1,"x":0.092,"v":0.95},{"r":1,"x":0.092,"v":0.9},
{"r":1,"x":0.101,"v":0.85},{"r":1,"x":0.101,"v":0.95},
{"r":1,"x":0.11,"v":0.9},
{"r":1,"x":0.119,"v":0.95},{"r":1,"x":0.119,"v":0.85},
{"r":1,"x":0.128,"v":0.9},
{"r":1,"x":0.137,"v":0.95},{"r":1,"x":0.137,"v":0.9},
{"r":1,"x":0.146,"v":0.85},{"r":1,"x":0.155,"v":0.95},
{"r":1,"x":0.164,"v":0.9},{"r":1,"x":0.164,"v":0.95},
{"r":1,"x":0.173,"v":0.85},{"r":1,"x":0.182,"v":0.95},{"r":1,"x":0.191,"v":0.9},
{"r":1,"x":0.2,"v":0.95},{"r":1,"x":0.2,"v":0.85},
{"r":1,"x":0.209,"v":0.9},{"r":1,"x":0.225,"v":0.95},{"r":1,"x":0.237,"v":0.9},{"r":1,"x":0.254,"v":0.95},
{"r":1,"x":0.315,"v":1},

{"r":0,"x":-0.232,"v":0.05},
{"r":0,"x":-0.204,"v":0.9},
{"r":0,"x":-0.195,"v":0.85},{"r":0,"x":-0.195,"v":0.2},
{"r":0,"x":-0.186,"v":0.95},
{"r":0,"x":-0.177,"v":0.8},{"r":0,"x":-0.177,"v":0.9},
{"r":0,"x":-0.168,"v":0.1},
{"r":0,"x":-0.159,"v":0.9},{"r":0,"x":-0.159,"v":0.85},
{"r":0,"x":-0.15,"v":0.95},
{"r":0,"x":-0.141,"v":0.2},{"r":0,"x":-0.141,"v":0.85},
{"r":0,"x":-0.132,"v":0.1},
{"r":0,"x":-0.123,"v":0.9},{"r":0,"x":-0.123,"v":0.15},
{"r":0,"x":-0.114,"v":0.85},
{"r":0,"x":-0.105,"v":0.1},
{"r":0,"x":-0.096,"v":0.8},
{"r":0,"x":-0.087,"v":0.9},{"r":0,"x":-0.087,"v":0.85},
{"r":0,"x":-0.078,"v":0.85},{"r":0,"x":-0.078,"v":0.9},{"r":0,"x":-0.078,"v":0.1},
{"r":0,"x":-0.069,"v":0.05},{"r":0,"x":-0.069,"v":0.05},{"r":0,"x":-0.069,"v":0.05},{"r":0,"x":-0.069,"v":0.05},{"r":0,"x":-0.069,"v":0.05},{"r":0,"x":-0.069,"v":0.05},{"r":0,"x":-0.069,"v":0.05},{"r":0,"x":-0.069,"v":0.05},{"r":0,"x":-0.069,"v":0.05},{"r":0,"x":-0.069,"v":0.05},{"r":0,"x":-0.069,"v":0.05},{"r":0,"x":-0.069,"v":0.05},{"r":0,"x":-0.069,"v":0.05},
{"r":0,"x":-0.06,"v":0.1},{"r":0,"x":-0.06,"v":0.85},{"r":0,"x":-0.06,"v":0.1},
{"r":0,"x":-0.051,"v":0.9},{"r":0,"x":-0.051,"v":0.6},{"r":0,"x":-0.051,"v":0.85},
{"r":0,"x":-0.042,"v":0.85},{"r":0,"x":-0.042,"v":0.5},{"r":0,"x":-0.042,"v":0.9},
{"r":0,"x":-0.033,"v":0.6},{"r":0,"x":-0.033,"v":0.9},{"r":0,"x":-0.033,"v":0.85},{"r":0,"x":-0.033,"v":0.4},
{"r":0,"x":-0.024,"v":0.9},{"r":0,"x":-0.024,"v":0.5},{"r":0,"x":-0.024,"v":0.85},{"r":0,"x":-0.024,"v":0.3},{"r":0,"x":-0.024,"v":0.6},
{"r":0,"x":-0.015,"v":0.85},{"r":0,"x":-0.015,"v":0.4},{"r":0,"x":-0.015,"v":0.9},{"r":0,"x":-0.015,"v":0.6},{"r":0,"x":-0.015,"v":0.5},{"r":0,"x":-0.015,"v":0.8},{"r":0,"x":-0.015,"v":0.3},
{"r":0,"x":-0.006,"v":0.9},{"r":0,"x":-0.006,"v":0.6},{"r":0,"x":-0.006,"v":0.85},{"r":0,"x":-0.006,"v":0.3},{"r":0,"x":-0.006,"v":0.5},{"r":0,"x":-0.006,"v":0.9},{"r":0,"x":-0.006,"v":0.4},{"r":0,"x":-0.006,"v":0.85},{"r":0,"x":-0.006,"v":0.6},
{"r":0,"x":0.003,"v":0.85},{"r":0,"x":0.003,"v":0.5},{"r":0,"x":0.003,"v":0.9},{"r":0,"x":0.003,"v":0.2},{"r":0,"x":0.003,"v":0.6},{"r":0,"x":0.003,"v":0.85},{"r":0,"x":0.003,"v":0.4},{"r":0,"x":0.003,"v":0.9},{"r":0,"x":0.003,"v":0.5},{"r":0,"x":0.003,"v":0.8},{"r":0,"x":0.003,"v":0.3},
{"r":0,"x":0.012,"v":0.9},{"r":0,"x":0.012,"v":0.6},{"r":0,"x":0.012,"v":0.1},{"r":0,"x":0.012,"v":0.85},{"r":0,"x":0.012,"v":0.5},{"r":0,"x":0.012,"v":0.9},{"r":0,"x":0.012,"v":0.4},{"r":0,"x":0.012,"v":0.85},{"r":0,"x":0.012,"v":0.6},{"r":0,"x":0.012,"v":0.3},{"r":0,"x":0.012,"v":0.9},
{"r":0,"x":0.021,"v":0.85},{"r":0,"x":0.021,"v":0.5},{"r":0,"x":0.021,"v":0.9},{"r":0,"x":0.021,"v":0.6},{"r":0,"x":0.021,"v":0.2},{"r":0,"x":0.021,"v":0.85},{"r":0,"x":0.021,"v":0.4},{"r":0,"x":0.021,"v":0.9},{"r":0,"x":0.021,"v":0.5},
{"r":0,"x":0.03,"v":0.6},{"r":0,"x":0.03,"v":0.9},{"r":0,"x":0.03,"v":0.1},{"r":0,"x":0.03,"v":0.85},{"r":0,"x":0.03,"v":0.5},{"r":0,"x":0.03,"v":0.4},{"r":0,"x":0.03,"v":0.9},
{"r":0,"x":0.039,"v":0.1},{"r":0,"x":0.039,"v":0.85},{"r":0,"x":0.039,"v":0.5},{"r":0,"x":0.039,"v":0.9},{"r":0,"x":0.039,"v":0.6},
{"r":0,"x":0.048,"v":0.85},{"r":0,"x":0.048,"v":0.4},{"r":0,"x":0.048,"v":0.9},{"r":0,"x":0.048,"v":0.5},
{"r":0,"x":0.057,"v":0.9},{"r":0,"x":0.057,"v":0.6},{"r":0,"x":0.057,"v":0.85},
{"r":0,"x":0.066,"v":0.5},{"r":0,"x":0.066,"v":0.9},
{"r":0,"x":0.075,"v":0.85},{"r":0,"x":0.075,"v":0.4},
{"r":0,"x":0.084,"v":0.9},
{"r":0,"x":0.093,"v":0.5},{"r":0,"x":0.093,"v":0.85},
{"r":0,"x":0.102,"v":0.6},
{"r":0,"x":0.111,"v":0.9},{"r":0,"x":0.111,"v":0.4},
{"r":0,"x":0.12,"v":0.1},{"r":0,"x":0.129,"v":0.5},
{"r":0,"x":0.138,"v":0.1},{"r":0,"x":0.138,"v":0.85},
{"r":0,"x":0.147,"v":0.05},{"r":0,"x":0.156,"v":0.1},
{"r":0,"x":0.194,"v":1}
    ]},
    "transform": [
      {"bin": {"step": 0.009, "extent": [-0.5085, 0.5], "nice": false}, "field": "x", "as": "bx"},
      {"window": [{"op": "row_number", "as": "k"}], "groupby": ["r", "bx"]},
      {"joinaggregate": [{"op": "max", "field": "k", "as": "km"}], "groupby": ["r"]},
      {"calculate": "datum.r + (datum.k % 2 == 0 ? 1 : -1) * floor(datum.k / 2) * 0.36 / (floor(datum.km / 2) + 1)", "as": "yy"}
    ],
    "mark": {"type": "circle", "size": 48, "opacity": 1},
    "encoding": {
      "x": {"field": "x", "type": "quantitative", "scale": {"domain": [-0.461, 0.483], "nice": false},
            "axis": {"values": [-0.4, -0.2, 0, 0.2, 0.4], "format": ".1f", "labelExpr": "replace(datum.label, '-', '\u2212')", "title": "SHAP value (impact on model output)", "domain": true, "domainColor": "#333", "tickColor": "#333", "tickSize": 5, "labelFontSize": 21.5, "labelColor": "#333", "titleFontSize": 26, "titleColor": "#333", "labelPadding": 6, "titlePadding": 4, "labelFlush": false}},
      "y": {"field": "yy", "type": "quantitative", "scale": {"domain": [-1, 7], "nice": false},
            "axis": {"values": [0, 1, 2, 3, 4, 5, 6], "labelExpr": "['socioeconomic', 'household composition and disability', 'minority status and language', 'housing type and transportation', '3rd trimester infection', 'variant_omicron', 'pre-covid diagnoses count'][datum.value]", "title": null, "ticks": false, "domain": false, "labelFontSize": 26, "labelColor": "#333", "labelLimit": 700, "labelPadding": 48}},
      "color": {"field": "v", "type": "quantitative",
                "scale": {"domain": [0, 0.3, 0.5, 0.75, 1], "range": ["#3d87cc", "#5a66b2", "#86489f", "#cf1a88", "#ef1a50"]},
                "legend": {"orient": "right", "offset": 27, "direction": "vertical", "gradientLength": 490, "gradientThickness": 6, "gradientStrokeWidth": 0, "values": [-0.022, 1.022], "labelExpr": "datum.value >= 1 ? 'High' : 'Low'", "labelFontSize": 21.5, "labelColor": "#333", "labelLimit": 200, "labelOffset": 9, "title": "Feature value", "titleOrient": "right", "titleAnchor": "middle", "titleFontSize": 23, "titleFontWeight": "normal", "titleColor": "#333", "titlePadding": -4, "padding": 0,
                           "encode": {"title": {"update": {"angle": {"value": -90}, "align": {"value": "center"}, "baseline": {"value": "top"}}}}}}
    }}
  ]
  }
 ], "spacing": 419, "bounds": "flush", "resolve": {"scale": {"color": "independent"}, "legend": {"color": "independent"}}}
]
}
